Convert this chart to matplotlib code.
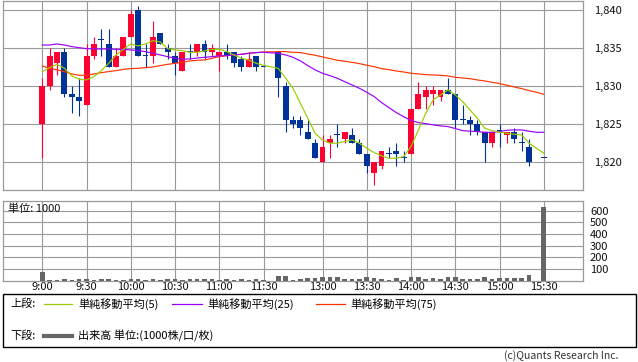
import matplotlib
matplotlib.use('Agg')
import matplotlib.pyplot as plt
from matplotlib.patches import Rectangle
from matplotlib.lines import Line2D

plt.rcParams['font.family'] = ['Noto Sans CJK JP', 'DejaVu Sans']

# ---------------- data ----------------
times = ["9:00", "9:05", "9:10", "9:15", "9:20", "9:25", "9:30", "9:35", "9:40", "9:45",
         "9:50", "9:55", "10:00", "10:05", "10:10", "10:15", "10:20", "10:25", "10:30", "10:35",
         "10:40", "10:45", "10:50", "10:55", "11:00", "11:05", "11:10", "11:15", "11:20", "11:25",
         "11:30",
         "12:30", "12:35", "12:40", "12:45", "12:50", "12:55", "13:00", "13:05", "13:10", "13:15",
         "13:20", "13:25", "13:30", "13:35", "13:40", "13:45", "13:50", "13:55", "14:00", "14:05",
         "14:10", "14:15", "14:20", "14:25", "14:30", "14:35", "14:40", "14:45", "14:50", "14:55",
         "15:00", "15:05", "15:10", "15:15", "15:20", "15:30"]

opens = [1825, 1830, 1833, 1834.5, 1829, 1828.5, 1827.5, 1834, 1836, 1835.5,
         1832.5, 1834, 1836.5, 1840, 1834, 1834, 1837, 1835, 1834, 1832,
         1834.5, 1834.5, 1835.5, 1834.5, 1834, 1834.5, 1834.5, 1833.5, 1832.5, 1834,
         1832.5,
         1834.5, 1830, 1825.5, 1825.5, 1824, 1822.5, 1820, 1822.5, 1823.5, 1823,
         1823.5, 1822.5, 1821, 1818.5, 1819.5, 1821, 1821.5, 1820.5, 1821, 1827,
         1828.5, 1829, 1828.5, 1829.5, 1829, 1825.5, 1825.5, 1825, 1824, 1822.5,
         1824, 1823.5, 1824, 1822.5, 1822, 1820.5]
highs = [1831, 1835, 1834.5, 1835, 1830, 1831, 1835.5, 1836.5, 1837.5, 1837.5,
         1835, 1836.5, 1840, 1840.5, 1835.5, 1838.5, 1837, 1835.5, 1834.5, 1834.5,
         1835.5, 1835.5, 1836, 1835.5, 1834.5, 1835.5, 1834.5, 1834, 1834.5, 1834,
         1832.5,
         1834.5, 1830.5, 1826, 1826, 1825.5, 1823, 1823.5, 1823.5, 1825, 1824,
         1824.5, 1823, 1821, 1820, 1821.5, 1822, 1822.5, 1821.5, 1827, 1830.5,
         1830, 1830, 1829.5, 1831, 1829, 1827.5, 1826, 1825.5, 1824, 1824,
         1825, 1824, 1824.5, 1824, 1823, 1820.5]
lows = [1820.5, 1829.5, 1831.5, 1828.5, 1826.5, 1826, 1827.5, 1833.5, 1834, 1832.5,
        1832.5, 1834, 1836.5, 1834, 1832.5, 1833, 1835.5, 1833.5, 1831.5, 1832,
        1833.5, 1834, 1833.5, 1834, 1832, 1833.5, 1832.5, 1832, 1832.5, 1832,
        1832.5,
        1828.5, 1824, 1824.5, 1823.5, 1823, 1820.5, 1820, 1820.5, 1822, 1822.5,
        1822.5, 1821, 1818.5, 1817, 1819, 1820.5, 1819.5, 1820, 1821, 1827,
        1827, 1827.5, 1828, 1829, 1824.5, 1825, 1823.5, 1823.5, 1820, 1822,
        1822, 1822.5, 1822.5, 1821.5, 1819.5, 1820.5]
closes = [1830, 1834, 1834.5, 1829, 1828.5, 1828, 1834, 1835.5, 1836, 1832.5,
          1834, 1836.5, 1839.5, 1834, 1834, 1836.5, 1835.5, 1834.5, 1833, 1834.5,
          1834.5, 1835.5, 1834.5, 1835, 1834.5, 1834, 1833, 1832.5, 1833.5, 1832.5,
          1832.5,
          1831, 1825.5, 1825, 1824.5, 1823, 1820.5, 1822, 1823, 1823.5, 1824,
          1822.5, 1821, 1819.5, 1820, 1821.5, 1821, 1821, 1820.5, 1827, 1829,
          1829.5, 1829.5, 1829.5, 1829, 1825.5, 1825.5, 1825, 1824, 1822.5, 1824,
          1824, 1824, 1823, 1822.5, 1820, 1820.5]
volumes = [74, 4, 4, 15, 4, 15, 15, 4, 15, 15,
           4, 4, 15, 15, 4, 15, 4, 15, 15, 4,
           15, 15, 15, 15, 4, 15, 4, 15, 4, 15,
           4,
           40, 40, 4, 17, 23, 23, 26, 31, 31, 14,
           14, 17, 31, 23, 11, 3, 23, 3, 26, 31,
           17, 23, 17, 26, 31, 17, 14, 17, 31, 17,
           23, 23, 23, 23, 48, 632]

ma_times = times[:-1] + ["15:25", "15:30"]
ma5 = [1831.89, 1832.41, 1832.85, 1832.32, 1831.32, 1830.88, 1830.79, 1831.23, 1832.02, 1832.98,
       1834.08, 1834.82, 1835.53, 1835.26, 1835.53, 1835.96, 1835.79, 1834.91, 1834.74, 1834.65,
       1834.43, 1834.43, 1834.61, 1834.82, 1834.82, 1834.52, 1834.08, 1833.64, 1833.42, 1832.98,
       1832.72,
       1832.32, 1831.01, 1829.69, 1827.72, 1825.75, 1823.77, 1822.89, 1822.46, 1822.46, 1822.68,
       1822.89, 1822.46, 1821.80, 1821.23, 1820.79, 1820.48, 1820.48, 1820.70, 1822.02, 1824.21,
       1826.40, 1828.16, 1828.82, 1829.47, 1828.82, 1827.94, 1826.84, 1825.75, 1824.43, 1824.12,
       1823.90, 1823.77, 1823.64, 1823.55, 1822.46, 1821.80, 1821.14]
ma25 = [1835.39, 1835.39, 1835.53, 1835.39, 1835.18, 1835.04, 1834.91, 1834.87, 1834.87, 1834.87,
        1834.82, 1834.82, 1834.74, 1834.65, 1834.52, 1834.30, 1834.08, 1833.86, 1833.64, 1833.51,
        1833.55, 1833.68, 1833.77, 1833.86, 1833.95, 1833.99, 1834.08, 1834.17, 1834.30, 1834.39,
        1834.43,
        1834.30, 1834.08, 1833.77, 1833.29, 1832.68, 1832.11, 1831.67, 1831.36, 1831.01, 1830.57,
        1830.13, 1829.69, 1829.17, 1828.60, 1827.81, 1827.15, 1826.49, 1825.96, 1825.44, 1825.18,
        1825.04, 1824.87, 1824.74, 1824.65, 1824.39, 1824.12, 1824.04, 1823.99, 1823.90, 1823.90,
        1823.99, 1824.17, 1824.21, 1824.21, 1824.04, 1823.90, 1823.90]
ma75 = [1832.63, 1832.32, 1832.11, 1831.89, 1831.58, 1831.40, 1831.40, 1831.58, 1831.75, 1831.89,
        1832.02, 1832.19, 1832.28, 1832.32, 1832.41, 1832.50, 1832.68, 1832.85, 1832.98, 1833.11,
        1833.29, 1833.38, 1833.42, 1833.64, 1833.86, 1833.99, 1834.08, 1834.17, 1834.30, 1834.39,
        1834.47,
        1834.52, 1834.52, 1834.43, 1834.39, 1834.21, 1834.04, 1833.82, 1833.60, 1833.38, 1833.25,
        1833.11, 1832.94, 1832.72, 1832.54, 1832.28, 1832.15, 1831.97, 1831.84, 1831.67, 1831.58,
        1831.49, 1831.45, 1831.40, 1831.32, 1831.14, 1831.05, 1830.96, 1830.79, 1830.66, 1830.48,
        1830.31, 1830.09, 1829.87, 1829.65, 1829.39, 1829.17, 1828.90]

price_ticks = [1820, 1825, 1830, 1835, 1840]
vol_ticks = [100, 200, 300, 400, 500, 600]
x_tick_labels = ["9:00", "9:30", "10:00", "10:30", "11:00", "11:30",
                 "13:00", "13:30", "14:00", "14:30", "15:00", "15:30"]


def slot(t):
    h, m = map(int, t.split(':'))
    mins = h * 60 + m
    if mins <= 11 * 60 + 30:
        return (mins - 9 * 60) / 5
    return 32 + (mins - (12 * 60 + 30)) / 5


# ---------------- style ----------------
RED = '#ff0033'
BLUE = '#003399'
GRID = '#999999'
C5, C25, C75 = '#99cc00', '#9900ff', '#ff3300'
VOLC = '#666666'
W, H = 638, 362

fig = plt.figure(figsize=(W / 100, H / 100), dpi=100)
ax = fig.add_axes([3 / W, 1 - 190 / H, 580 / W, 189.5 / H])
axv = fig.add_axes([3 / W, 1 - 280.5 / H, 580 / W, 79.5 / H])

xs = [slot(t) for t in times]
mxs = [slot(t) for t in ma_times]
xt = [slot(t) for t in x_tick_labels]

for a in (ax, axv):
    a.set_xlim(-5.33, 73.32)
    a.set_xticks(xt)
    a.grid(True, color=GRID, lw=0.8)
    a.set_axisbelow(True)
    for s in a.spines.values():
        s.set_color(GRID)
        s.set_linewidth(0.9)
    a.tick_params(length=0, colors='#111111')

# price panel
ax.set_ylim(1816.3, 1841.25)
ax.set_yticks(price_ticks)
ax.set_yticklabels([f"{v:,}" for v in price_ticks], fontsize=8)
ax.yaxis.tick_right()
ax.tick_params(axis='y', pad=8)
ax.set_xticklabels([])

for x, o, hi, lo, c in zip(xs, opens, highs, lows, closes):
    col = RED if c > o else BLUE
    ax.vlines(x, lo, hi, color=col, lw=0.8, zorder=3)
    ax.bar(x, max(abs(c - o), 0.14), bottom=min(o, c), width=0.8,
           color=col, lw=0, zorder=3)

ax.plot(mxs, ma75, color=C75, lw=0.85, zorder=4)
ax.plot(mxs, ma25, color=C25, lw=0.85, zorder=4)
ax.plot(mxs, ma5, color=C5, lw=0.85, zorder=5)

# volume panel
axv.set_ylim(0, 683)
axv.set_yticks(vol_ticks)
axv.set_yticklabels([str(v) for v in vol_ticks], fontsize=8)
axv.yaxis.tick_right()
axv.tick_params(axis='y', pad=5)
axv.set_xticklabels(x_tick_labels, fontsize=8)
axv.tick_params(axis='x', pad=1)
axv.bar(xs, volumes, width=0.62, color=VOLC, lw=0, zorder=3)
fig.text(8 / W, 1 - 209 / H, "単位: 1000", fontsize=8, va='center', ha='left',
         color='#111111')

# legend box
fig.patches.append(Rectangle((3 / W, 1 - 346.5 / H), 633 / W, 52.5 / H,
                             transform=fig.transFigure, fill=False,
                             edgecolor='#000000', lw=1.0))
y1 = 1 - 304 / H
y2 = 1 - 336 / H
fig.text(10 / W, y1, "上段:", fontsize=8, va='center', ha='left')
for (x0, x1, col, label, tx) in [(44, 72, C5, "単純移動平均(5)", 78),
                                 (172, 202, C25, "単純移動平均(25)", 207),
                                 (316, 345, C75, "単純移動平均(75)", 350)]:
    fig.lines.append(Line2D([x0 / W, x1 / W], [y1, y1], transform=fig.transFigure,
                            color=col, lw=0.9))
    fig.text(tx / W, y1, label, fontsize=8, va='center', ha='left')
fig.text(10 / W, y2, "下段:", fontsize=8, va='center', ha='left')
fig.lines.append(Line2D([44 / W, 72 / W], [y2, y2], transform=fig.transFigure,
                        color=VOLC, lw=3.0))
fig.text(78 / W, y2, "出来高 単位:(1000株/口/枚)", fontsize=8, va='center', ha='left')

fig.text(618 / W, 1 - 356 / H, "(c)Quants Research Inc.", fontsize=7.5,
         va='center', ha='right', color='#333333')

fig.savefig('out.png', dpi=100)
